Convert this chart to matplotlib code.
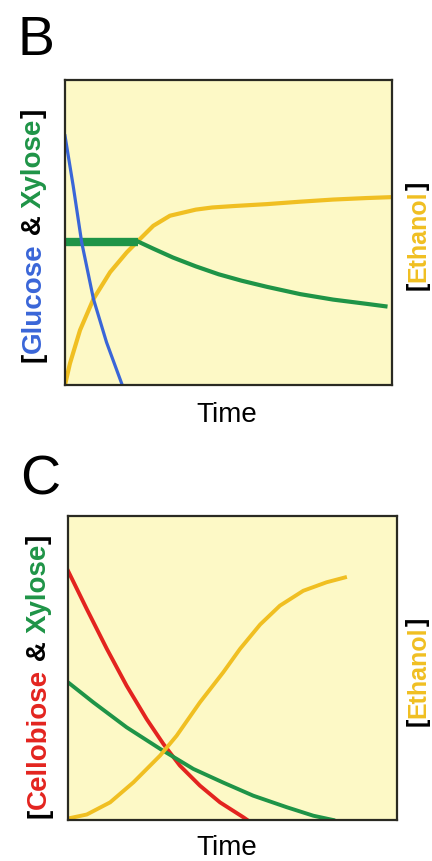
import matplotlib
matplotlib.use("Agg")
import matplotlib.pyplot as plt

plt.rcParams['font.family'] = ['Liberation Sans', 'DejaVu Sans']

# panel B (axes units: 0..1 time, 0..1 concentration)
glucose_x = [0.0, 0.025, 0.051, 0.087, 0.127, 0.175]
glucose_y = [0.817, 0.653, 0.468, 0.282, 0.140, 0.0]
xyl_lag_x = [0.0, 0.224]
xyl_lag_y = [0.47, 0.47]
xyl_b_x = [0.224, 0.27, 0.33, 0.40, 0.47, 0.54, 0.617, 0.719, 0.82, 0.923, 0.98]
xyl_b_y = [0.47, 0.447, 0.418, 0.389, 0.363, 0.342, 0.322, 0.298, 0.280, 0.266, 0.258]
eth_b_x = [0.0, 0.015, 0.046, 0.087, 0.138, 0.189, 0.224, 0.27, 0.321, 0.40, 0.45,
           0.52, 0.617, 0.719, 0.82, 0.923, 1.0]
eth_b_y = [0.0, 0.07, 0.18, 0.282, 0.370, 0.435, 0.473, 0.522, 0.555, 0.575, 0.582,
           0.587, 0.593, 0.601, 0.608, 0.613, 0.616]

# panel C
cello_x = [0.0, 0.057, 0.118, 0.178, 0.239, 0.29, 0.34, 0.401, 0.462, 0.533, 0.545]
cello_y = [0.82, 0.694, 0.563, 0.442, 0.332, 0.25, 0.179, 0.113, 0.058, 0.009, 0.0]
xyl_c_x = [0.0, 0.077, 0.178, 0.28, 0.381, 0.472, 0.563, 0.665, 0.746, 0.806]
xyl_c_y = [0.453, 0.387, 0.305, 0.234, 0.168, 0.123, 0.080, 0.042, 0.014, 0.0]
eth_c_x = [0.0, 0.057, 0.128, 0.199, 0.28, 0.33, 0.401, 0.472, 0.523, 0.584, 0.644,
           0.715, 0.786, 0.842]
eth_c_y = [0.005, 0.018, 0.058, 0.124, 0.212, 0.277, 0.387, 0.486, 0.563, 0.643, 0.705,
           0.754, 0.782, 0.798]

BG = '#fdf9c6'
BLUE = '#3a66d8'
GREEN = '#1f9447'
GOLD = '#f0bf22'
RED = '#e3241f'
EDGE = '#2a2a22'

fig = plt.figure(figsize=(4.32, 8.62), dpi=100)
W, H = 432.0, 862.0


def make_axes(left, top, right, bottom):
    ax = fig.add_axes([left / W, 1 - bottom / H, (right - left) / W, (bottom - top) / H])
    ax.set_facecolor(BG)
    ax.set_xlim(0, 1)
    ax.set_ylim(0, 1)
    ax.set_xticks([])
    ax.set_yticks([])
    for s in ax.spines.values():
        s.set_linewidth(1.6)
        s.set_color(EDGE)
    return ax


def stacked_label(x, y, parts, size):
    # rotated label made of coloured pieces, written bottom to top
    r = fig.canvas.get_renderer()
    yy = y
    for s, c in parts:
        t = fig.text(x / W, 1 - yy / H, s, color=c, fontsize=size, fontweight='bold',
                     rotation=90, rotation_mode='anchor', ha='left', va='baseline')
        yy -= t.get_window_extent(r).height


axB = make_axes(65, 81, 392, 386)
axB.plot(eth_b_x, eth_b_y, color=GOLD, lw=3.0, solid_capstyle='butt')
axB.plot(xyl_lag_x, xyl_lag_y, color=GREEN, lw=6.0, solid_capstyle='butt')
axB.plot(xyl_b_x, xyl_b_y, color=GREEN, lw=3.0)
axB.plot(glucose_x, glucose_y, color=BLUE, lw=2.3)

axC = make_axes(68, 517, 397, 821)
axC.plot(cello_x, cello_y, color=RED, lw=2.8)
axC.plot(xyl_c_x, xyl_c_y, color=GREEN, lw=2.8)
axC.plot(eth_c_x, eth_c_y, color=GOLD, lw=2.8)

fig.text(17 / W, 1 - 55 / H, 'B', fontsize=40, ha='left', va='baseline')
fig.text(20 / W, 1 - 495 / H, 'C', fontsize=40, ha='left', va='baseline')
fig.text(227 / W, 1 - 422 / H, 'Time', fontsize=20, ha='center', va='baseline')
fig.text(227 / W, 1 - 855 / H, 'Time', fontsize=20, ha='center', va='baseline')

stacked_label(41, 362, [('[', 'black'), ('Glucose', BLUE), (' & ', 'black'),
                        ('Xylose', GREEN), (']', 'black')], 20)
stacked_label(46, 818, [('[', 'black'), ('Cellobiose', RED), (' & ', 'black'),
                        ('Xylose', GREEN), (']', 'black')], 20)
stacked_label(425, 290, [('[', 'black'), ('Ethanol', GOLD), (']', 'black')], 18)
stacked_label(425, 726, [('[', 'black'), ('Ethanol', GOLD), (']', 'black')], 18)

fig.savefig('out.png', dpi=100)
